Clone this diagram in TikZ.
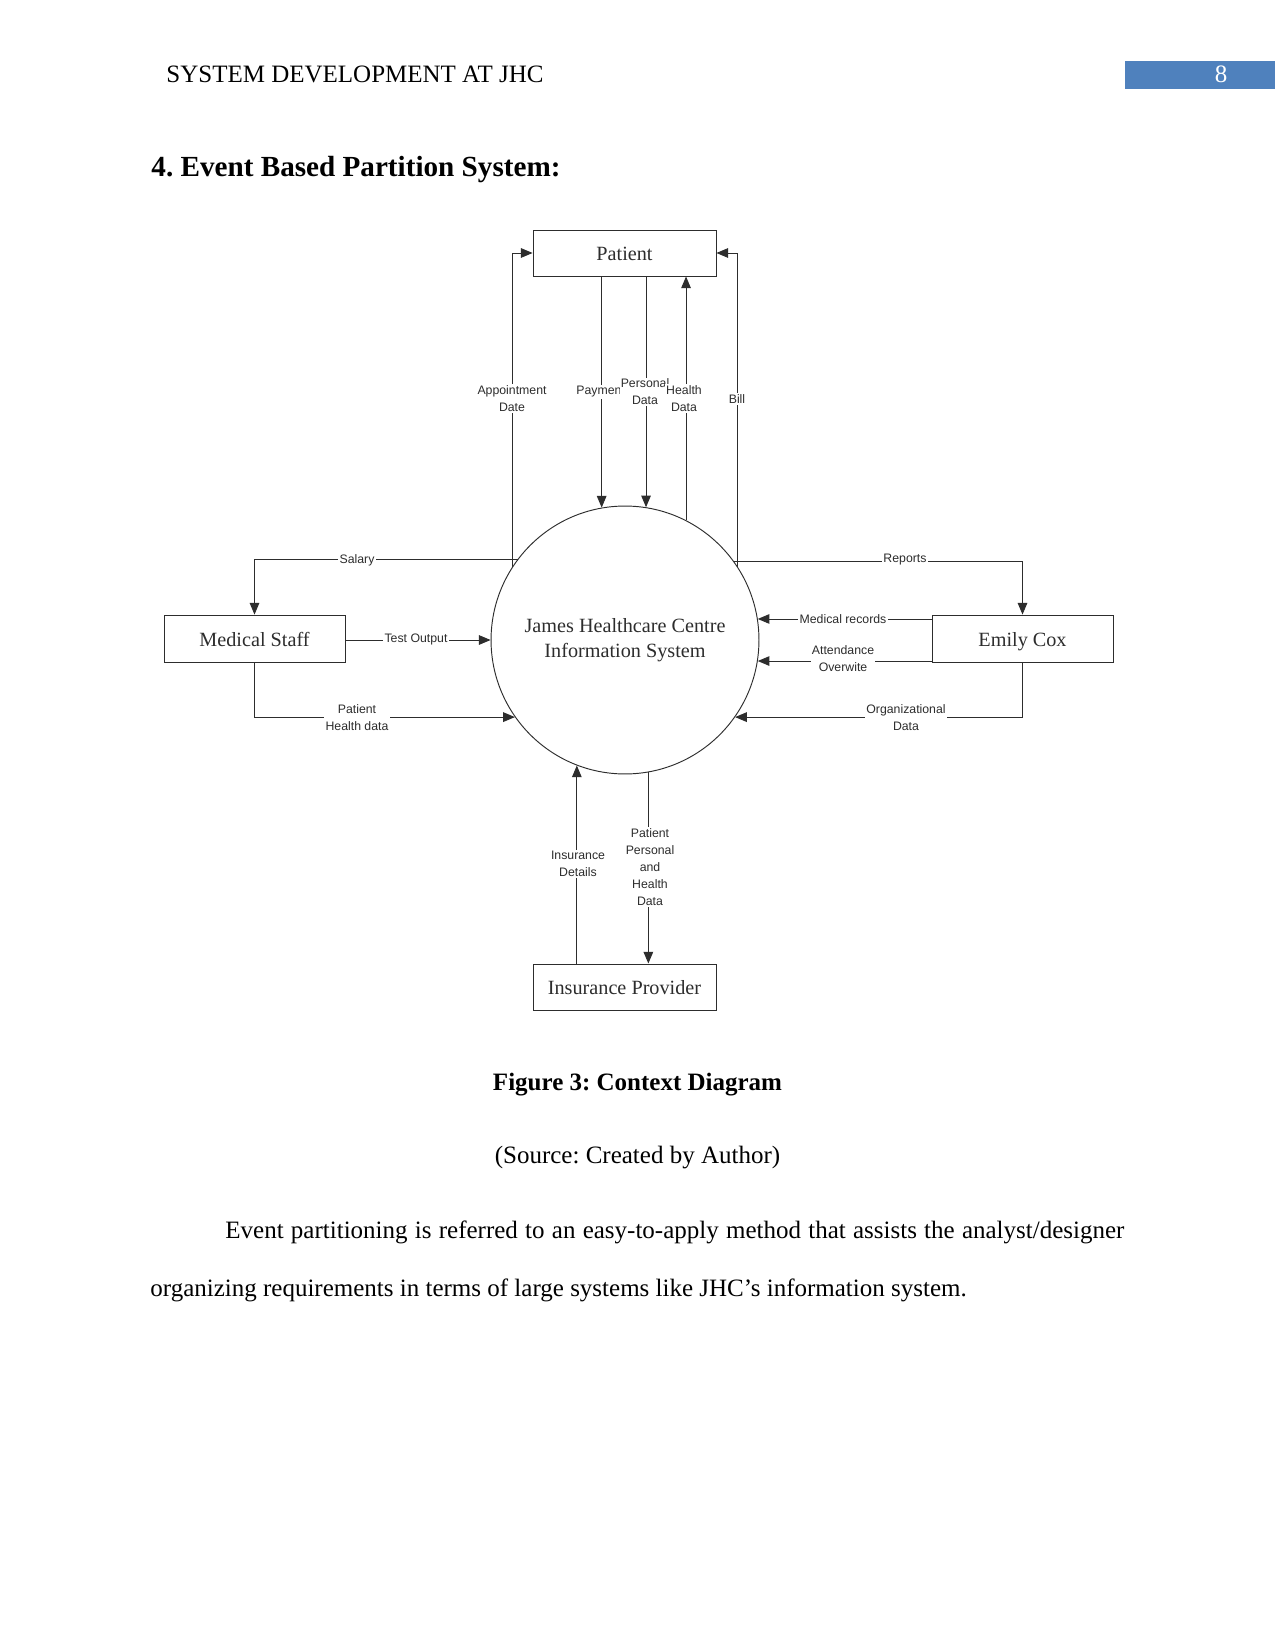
\documentclass[tikz,border=0pt]{standalone}
\usepackage{fontspec}
\setmainfont{Liberation Serif}
\newfontfamily\lsans{Liberation Sans}
\usetikzlibrary{arrows.meta}
\definecolor{hdrblue}{RGB}{79,129,189}
\definecolor{ink}{RGB}{45,45,45}
\frenchspacing
\begin{document}
\begin{tikzpicture}[x=0.48pt,y=0.48pt,
  ent/.style={draw=ink,line width=0.45pt,inner sep=0pt,text=ink,
    text height=6.8pt,text depth=0pt,
    font=\fontsize{9.7}{12}\selectfont},
  proc/.style={draw=ink,line width=0.45pt,circle,inner sep=0pt,minimum size=128.6pt,
    text=ink,align=center,font=\fontsize{9.7}{12}\selectfont},
  flow/.style={draw=ink,line width=0.45pt,-{Triangle[length=5.6pt,width=4.6pt]}},
  lab/.style={fill=white,inner sep=0.6pt,align=center,text=ink,
    font=\lsans\fontsize{5.9}{8.2}\selectfont},
  pagetext/.style={inner sep=0pt,font=\fontsize{12}{14}\selectfont}]
\useasboundingbox (0,0) rectangle (1275,-1650);
\fill[white] (0,0) rectangle (1275,-1650);

% header
\node[pagetext,anchor=base west] (hdr) at (166,-83) {SYSTEM DEVELOPMENT AT JHC};
\fill[hdrblue] (1125,-61) rectangle (1275,-89);
\node[pagetext,anchor=base,text=white] (pgno) at (1221,-83) {8};
\node[inner sep=0pt,anchor=base west,font=\bfseries\fontsize{14}{16}\selectfont] (heading) at (151,-177) {4. Event Based Partition System:};

% entities
\node[ent,minimum width=87.8pt,minimum height=22.1pt] (pat) at (624.5,-253) {Patient};
\node[ent,minimum width=86.9pt,minimum height=23pt] (ms) at (254.5,-639) {Medical Staff};
\node[ent,minimum width=86.9pt,minimum height=23pt] (emily) at (1022.5,-639) {Emily Cox};
\node[ent,minimum width=87.8pt,minimum height=22.1pt] (ins) at (624.5,-987) {Insurance Provider};
\node[proc] (jhc) at (625,-640) {James Healthcare Centre\\Information System};

% flows with Patient
\draw[flow] (jhc.147.5) |- (pat.west);
\draw[flow] (jhc.33.3) |- (pat.east);
\draw[flow] (jhc.100.3 |- pat.south) -- (jhc.100.3);
\draw[flow] (jhc.81 |- pat.south) -- (jhc.81);
\draw[flow] (jhc.63.4) -- (jhc.63.4 |- pat.south);

% flows with Medical Staff
\draw[flow] (jhc.143.3) -| (ms.north);
\draw[flow] (jhc.180 -| ms.east) -- (jhc.180);
\draw[flow] (ms.south) |- (jhc.215.6);

% flows with Emily Cox
\draw[flow] (jhc.36.7) -| (emily.north);
\draw[flow] (jhc.9 -| emily.west) -- (jhc.9);
\draw[flow] (jhc.-9 -| emily.west) -- (jhc.-9);
\draw[flow] (emily.south) |- (jhc.-35.6);

% flows with Insurance Provider
\draw[flow] (jhc.249.5 |- ins.north) -- (jhc.249.5);
\draw[flow] (jhc.280.7) -- (jhc.280.7 |- ins.north);

% labels
\node[lab] (lappt) at (512,-398.5) {Appointment\\Date};
\node[lab] (lpay) at (599,-392) {Paymen};
\node[lab] (lpers) at (645,-392) {Personal\\Data};
\node[lab] (lhealth) at (684,-398.5) {Health\\Data};
\node[lab] (lbill) at (737,-399) {Bill};
\node[lab] (lsal) at (357,-560) {Salary};
\node[lab] (lrep) at (905,-560) {Reports};
\node[lab] (ltest) at (416,-639) {Test Output};
\node[lab] (lphd) at (357,-717.5) {Patient\\Health data};
\node[lab] (lmed) at (843,-619) {Medical records};
\node[lab] (latt) at (843,-659) {Attendance\\Overwite};
\node[lab] (lorg) at (906,-717.5) {Organizational\\Data};
\node[lab] (lins) at (578,-864) {Insurance\\Details};
\node[lab] (lpphd) at (650,-867) {Patient\\Personal\\and\\Health\\Data};

% caption and text
\node[pagetext,anchor=base,font=\bfseries\fontsize{12}{14}\selectfont] (cap) at (637.5,-1090) {Figure 3: Context Diagram};
\node[pagetext,anchor=base] (src) at (637.5,-1163) {(Source: Created by Author)};
\node[pagetext,anchor=base west] (para1) at (225,-1238) {\makebox[431.5pt][s]{Event partitioning is referred to an easy-to-apply method that assists the analyst/designer}};
\node[pagetext,anchor=base west] (para2) at (150,-1296) {organizing requirements in terms of large systems like JHC’s information system.};
\end{tikzpicture}
\end{document}
